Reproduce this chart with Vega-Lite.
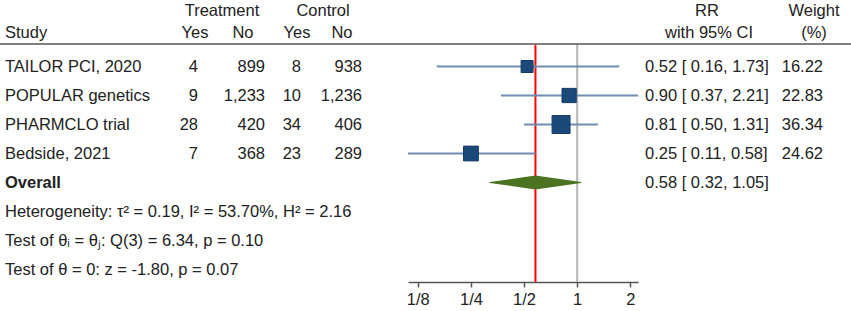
{
  "$schema": "https://vega.github.io/schema/vega-lite/v6.json",
  "width": 851,
  "height": 238,
  "autosize": {"type": "none"},
  "padding": {"left": 0, "top": 44, "right": 0, "bottom": 29},
  "background": "white",
  "config": {
    "view": {"stroke": null},
    "text": {"font": "Liberation Sans", "fontSize": 16.5, "color": "#222222", "baseline": "middle"}
  },
  "datasets": {
    "one": [{}],
    "studies": [
      {"row": 1, "study": "TAILOR PCI, 2020", "t_yes": 4, "t_no": 899, "c_yes": 8, "c_no": 938, "rr": 0.52, "lo": 0.16, "hi": 1.73, "ci": "0.52 [ 0.16,  1.73]", "weight": 16.22},
      {"row": 2, "study": "POPULAR genetics", "t_yes": 9, "t_no": 1233, "c_yes": 10, "c_no": 1236, "rr": 0.90, "lo": 0.37, "hi": 2.21, "ci": "0.90 [ 0.37,  2.21]", "weight": 22.83},
      {"row": 3, "study": "PHARMCLO trial", "t_yes": 28, "t_no": 420, "c_yes": 34, "c_no": 406, "rr": 0.81, "lo": 0.50, "hi": 1.31, "ci": "0.81 [ 0.50,  1.31]", "weight": 36.34},
      {"row": 4, "study": "Bedside, 2021", "t_yes": 7, "t_no": 368, "c_yes": 23, "c_no": 289, "rr": 0.25, "lo": 0.11, "hi": 0.58, "ci": "0.25 [ 0.11,  0.58]", "weight": 24.62}
    ],
    "overall": [
      {"row": 5, "label": "Overall", "rr": 0.58, "lo": 0.32, "hi": 1.05, "ci": "0.58 [ 0.32,  1.05]"}
    ],
    "notes": [
      {"row": 6, "text": "Heterogeneity: τ² = 0.19, I² = 53.70%, H² = 2.16"},
      {"row": 7, "text": "Test of θᵢ = θⱼ: Q(3) = 6.34, p = 0.10"},
      {"row": 8, "text": "Test of θ = 0: z = -1.80, p = 0.07"}
    ]
  },
  "resolve": {"scale": {"x": "independent", "size": "independent"}, "axis": {"x": "independent"}},
  "layer": [
    {
      "resolve": {"scale": {"size": "independent"}},
      "layer": [
        {
          "data": {"name": "one"},
          "mark": {"type": "rule", "color": "#b5b5b5", "strokeWidth": 2},
          "encoding": {
            "x": {
              "datum": 1, "type": "quantitative",
              "scale": {"type": "log", "base": 2, "domain": [0.11, 2.21], "range": [408, 638], "nice": false, "zero": false},
              "axis": {
                "values": [0.125, 0.25, 0.5, 1, 2],
                "labelExpr": "datum.value == 0.125 ? '1/8' : datum.value == 0.25 ? '1/4' : datum.value == 0.5 ? '1/2' : datum.value == 1 ? '1' : '2'",
                "title": null, "grid": false, "domainColor": "#555555", "domainWidth": 1.5,
                "tickColor": "#555555", "tickWidth": 1.5, "tickSize": 5,
                "labelFont": "Liberation Sans", "labelFontSize": 16.5, "labelColor": "#222222",
                "labelPadding": 4, "labelOverlap": false, "labelFlush": false
              }
            }
          }
        },
        {
          "data": {"name": "one"},
          "mark": {"type": "rule", "color": "#ff0000", "strokeWidth": 2},
          "encoding": {"x": {"datum": 0.58, "type": "quantitative"}}
        },
        {
          "data": {"name": "studies"},
          "mark": {"type": "rule", "color": "#6f8db0", "strokeWidth": 2},
          "encoding": {
            "x": {"field": "lo", "type": "quantitative"},
            "x2": {"field": "hi"},
            "y": {"field": "row", "type": "quantitative", "scale": {"domain": [0.224, 8.431], "reverse": true, "nice": false, "zero": false}, "axis": null}
          }
        },
        {
          "data": {"name": "studies"},
          "mark": {"type": "point", "shape": "square", "filled": true, "color": "#1b4a7a", "opacity": 1, "stroke": "#143a63", "strokeWidth": 1},
          "encoding": {
            "x": {"field": "rr", "type": "quantitative"},
            "y": {"field": "row", "type": "quantitative"},
            "size": {"field": "weight", "type": "quantitative", "scale": {"domain": [0, 40], "range": [0, 355]}, "legend": null}
          }
        },
        {
          "data": {"name": "overall"},
          "transform": [{"fold": ["lo", "rr", "hi"]}],
          "mark": {"type": "trail", "color": "#4b7321"},
          "encoding": {
            "x": {"field": "value", "type": "quantitative"},
            "y": {"field": "row", "type": "quantitative"},
            "size": {"field": "key", "type": "nominal", "scale": {"type": "ordinal", "domain": ["lo", "rr", "hi"], "range": [0, 14, 0]}, "legend": null}
          }
        }
      ]
    },
    {
      "layer": [
        {
          "data": {"name": "one"},
          "mark": {"type": "rule", "color": "#808080", "strokeWidth": 2},
          "encoding": {"y": {"datum": 0.224, "type": "quantitative"}}
        },
        {
          "data": {"name": "studies"},
          "mark": {"type": "text", "align": "left"},
          "encoding": {
            "x": {"datum": 5, "type": "quantitative", "scale": {"type": "linear", "domain": [0, 851], "range": [0, 851], "nice": false, "zero": false}, "axis": null},
            "y": {"field": "row", "type": "quantitative"},
            "text": {"field": "study"}
          }
        },
        {
          "data": {"name": "overall"},
          "mark": {"type": "text", "align": "left", "fontWeight": "bold"},
          "encoding": {"x": {"datum": 5, "type": "quantitative"}, "y": {"field": "row", "type": "quantitative"}, "text": {"field": "label"}}
        },
        {
          "data": {"name": "notes"},
          "mark": {"type": "text", "align": "left"},
          "encoding": {"x": {"datum": 5, "type": "quantitative"}, "y": {"field": "row", "type": "quantitative"}, "text": {"field": "text"}}
        },
        {
          "data": {"name": "studies"},
          "mark": {"type": "text", "align": "right"},
          "encoding": {"x": {"datum": 198, "type": "quantitative"}, "y": {"field": "row", "type": "quantitative"}, "text": {"field": "t_yes", "format": ","}}
        },
        {
          "data": {"name": "studies"},
          "mark": {"type": "text", "align": "right"},
          "encoding": {"x": {"datum": 265, "type": "quantitative"}, "y": {"field": "row", "type": "quantitative"}, "text": {"field": "t_no", "format": ","}}
        },
        {
          "data": {"name": "studies"},
          "mark": {"type": "text", "align": "right"},
          "encoding": {"x": {"datum": 301, "type": "quantitative"}, "y": {"field": "row", "type": "quantitative"}, "text": {"field": "c_yes", "format": ","}}
        },
        {
          "data": {"name": "studies"},
          "mark": {"type": "text", "align": "right"},
          "encoding": {"x": {"datum": 362, "type": "quantitative"}, "y": {"field": "row", "type": "quantitative"}, "text": {"field": "c_no", "format": ","}}
        },
        {
          "data": {"name": "studies"},
          "mark": {"type": "text", "align": "left"},
          "encoding": {"x": {"datum": 645, "type": "quantitative"}, "y": {"field": "row", "type": "quantitative"}, "text": {"field": "ci"}}
        },
        {
          "data": {"name": "overall"},
          "mark": {"type": "text", "align": "left"},
          "encoding": {"x": {"datum": 645, "type": "quantitative"}, "y": {"field": "row", "type": "quantitative"}, "text": {"field": "ci"}}
        },
        {
          "data": {"name": "studies"},
          "mark": {"type": "text", "align": "right"},
          "encoding": {"x": {"datum": 823, "type": "quantitative"}, "y": {"field": "row", "type": "quantitative"}, "text": {"field": "weight", "format": ".2f"}}
        },
        {"data": {"name": "one"}, "mark": {"type": "text", "align": "left"}, "encoding": {"x": {"datum": 5, "type": "quantitative"}, "y": {"datum": -0.155, "type": "quantitative"}, "text": {"value": "Study"}}},
        {"data": {"name": "one"}, "mark": {"type": "text", "align": "center"}, "encoding": {"x": {"datum": 222, "type": "quantitative"}, "y": {"datum": -0.914, "type": "quantitative"}, "text": {"value": "Treatment"}}},
        {"data": {"name": "one"}, "mark": {"type": "text", "align": "center"}, "encoding": {"x": {"datum": 323, "type": "quantitative"}, "y": {"datum": -0.914, "type": "quantitative"}, "text": {"value": "Control"}}},
        {"data": {"name": "one"}, "mark": {"type": "text", "align": "center"}, "encoding": {"x": {"datum": 195, "type": "quantitative"}, "y": {"datum": -0.155, "type": "quantitative"}, "text": {"value": "Yes"}}},
        {"data": {"name": "one"}, "mark": {"type": "text", "align": "center"}, "encoding": {"x": {"datum": 243, "type": "quantitative"}, "y": {"datum": -0.155, "type": "quantitative"}, "text": {"value": "No"}}},
        {"data": {"name": "one"}, "mark": {"type": "text", "align": "center"}, "encoding": {"x": {"datum": 297, "type": "quantitative"}, "y": {"datum": -0.155, "type": "quantitative"}, "text": {"value": "Yes"}}},
        {"data": {"name": "one"}, "mark": {"type": "text", "align": "center"}, "encoding": {"x": {"datum": 342, "type": "quantitative"}, "y": {"datum": -0.155, "type": "quantitative"}, "text": {"value": "No"}}},
        {"data": {"name": "one"}, "mark": {"type": "text", "align": "center"}, "encoding": {"x": {"datum": 707, "type": "quantitative"}, "y": {"datum": -0.914, "type": "quantitative"}, "text": {"value": "RR"}}},
        {"data": {"name": "one"}, "mark": {"type": "text", "align": "center"}, "encoding": {"x": {"datum": 709, "type": "quantitative"}, "y": {"datum": -0.155, "type": "quantitative"}, "text": {"value": "with 95% CI"}}},
        {"data": {"name": "one"}, "mark": {"type": "text", "align": "center"}, "encoding": {"x": {"datum": 814, "type": "quantitative"}, "y": {"datum": -0.914, "type": "quantitative"}, "text": {"value": "Weight"}}},
        {"data": {"name": "one"}, "mark": {"type": "text", "align": "center"}, "encoding": {"x": {"datum": 814, "type": "quantitative"}, "y": {"datum": -0.155, "type": "quantitative"}, "text": {"value": "(%)"}}}
      ]
    }
  ]
}
